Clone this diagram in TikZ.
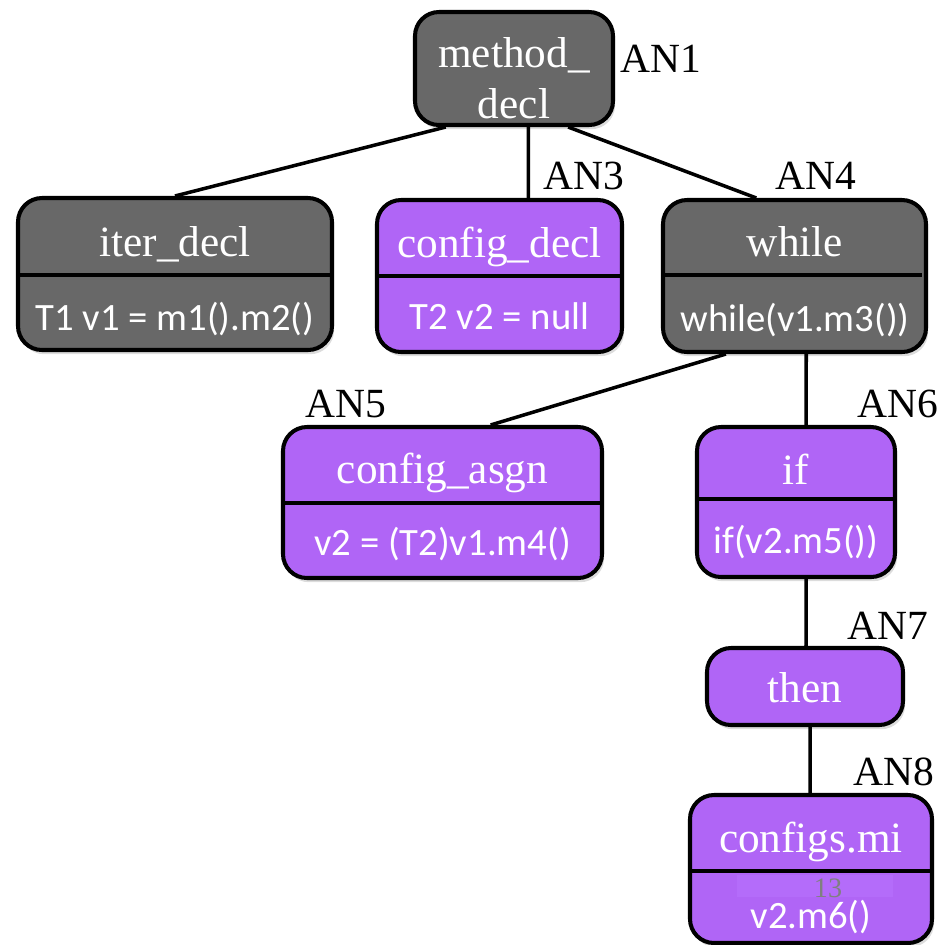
\documentclass[tikz,border=0pt]{standalone}
\usepackage{fontspec}
\setmainfont{Liberation Serif}
\newfontfamily\codefont{Carlito}
\usetikzlibrary{fit,calc,shadows}
\definecolor{nodegray}{RGB}{104,104,104}
\definecolor{nodepurple}{RGB}{176,101,246}
\definecolor{bandpurple}{RGB}{180,108,250}
\definecolor{pagegray}{RGB}{128,128,128}
\begin{document}
\begin{tikzpicture}[x=0.01cm,y=-0.01cm,
  box/.style={draw=black, line width=1.15pt, rounded corners=0.24cm, inner sep=0pt,
    drop shadow={shadow xshift=0.6pt, shadow yshift=-1.2pt, opacity=0.28}},
  graybox/.style={box, fill=nodegray},
  purplebox/.style={box, fill=nodepurple},
  title/.style={text=white, font=\fontsize{12.3}{14.5}\selectfont, inner sep=0pt, align=center},
  code/.style={text=white, font=\codefont\fontsize{11}{12}\selectfont, inner sep=0pt, anchor=base},
  tag/.style={text=black, font=\fontsize{11.8}{13}\selectfont, inner sep=0pt, anchor=base west},
  divider/.style={line width=1.4pt},
  edge/.style={line width=1pt}]
\useasboundingbox (0,0) rectangle (948,944);

% boxes
\node[graybox, fit={(415,12)(613,125)}] (md) {};
\node[graybox, fit={(18,198)(332,350)}] (iter) {};
\node[purplebox, fit={(377,200)(622,352)}] (cdecl) {};
\node[graybox, fit={(663,200)(926,352)}] (while) {};
\node[purplebox, fit={(283,427)(602,578)}] (casgn) {};
\node[purplebox, fit={(697,427)(895,577)}] (if) {};
\node[purplebox, fit={(707,648)(903,725)}] (then) {};
\node[purplebox, fit={(690,795)(932,943)}] (cmi) {};

% dividers between title and code rows
\draw[divider] (18,275) -- (332,275);
\draw[divider] (377,276) -- (622,276);
\draw[divider] (662,275) -- (922,275);
\draw[divider] (283,503) -- (602,503);
\draw[divider] (697,499) -- (895,499);
\draw[divider] (690,871) -- (932,871);

% slide number band
\fill[bandpurple] (737,875) rectangle (893,897);
\node[text=pagegray, font=\fontsize{8}{9}\selectfont, inner sep=0pt, anchor=base] (pg) at (828,897) {13};

% tree edges
\draw[edge] ($(md.south west)!0.162!(md.south east)$) -- (iter.north);
\draw[edge] ($(md.south west)!0.571!(md.south east)$) -- ($(cdecl.north west)!0.616!(cdecl.north east)$);
\draw[edge] ($(md.south west)!0.768!(md.south east)$) -- ($(while.north west)!0.357!(while.north east)$);
\draw[edge] ($(while.south west)!0.243!(while.south east)$) -- ($(casgn.north west)!0.649!(casgn.north east)$);
\draw[edge] ($(while.south west)!0.544!(while.south east)$) -- ($(if.north west)!0.55!(if.north east)$);
\draw[edge] ($(if.south west)!0.55!(if.south east)$) -- ($(then.north west)!0.505!(then.north east)$);
\draw[edge] ($(then.south west)!0.526!(then.south east)$) -- ($(cmi.north west)!0.496!(cmi.north east)$);

% titles
\node[title] (mdT) at (514,78) {method\_\\decl};
\node[title, anchor=base] (iterT) at (175,256) {iter\_decl};
\node[title, anchor=base] (cdeclT) at (499.5,257) {config\_decl};
\node[title, anchor=base] (whileT) at (795,256) {while};
\node[title, anchor=base] (casgnT) at (442.5,483) {config\_asgn};
\node[title, anchor=base] (ifT) at (796,484) {if};
\node[title, anchor=base] (thenT) at (805,702) {then};
\node[title, anchor=base] (cmiT) at (811,852) {configs.mi};

% code lines
\node[code] (iterC) at (175,330) {T1 v1 = m1().m2()};
\node[code] (cdeclC) at (499.5,329) {T2 v2 = null};
\node[code] (whileC) at (795,331) {while(v1.m3())};
\node[code] (casgnC) at (442.5,555) {v2 = (T2)v1.m4()};
\node[code] (ifC) at (796,553) {if(v2.m5())};
\node[code] (cmiC) at (811,928) {v2.m6()};

% node tags
\node[tag] (an1) at (620,72) {AN1};
\node[tag] (an3) at (543,189) {AN3};
\node[tag] (an4) at (775,189) {AN4};
\node[tag] (an5) at (305,417) {AN5};
\node[tag] (an6) at (857,417) {AN6};
\node[tag] (an7) at (847,639) {AN7};
\node[tag] (an8) at (853,785) {AN8};
\end{tikzpicture}
\end{document}
